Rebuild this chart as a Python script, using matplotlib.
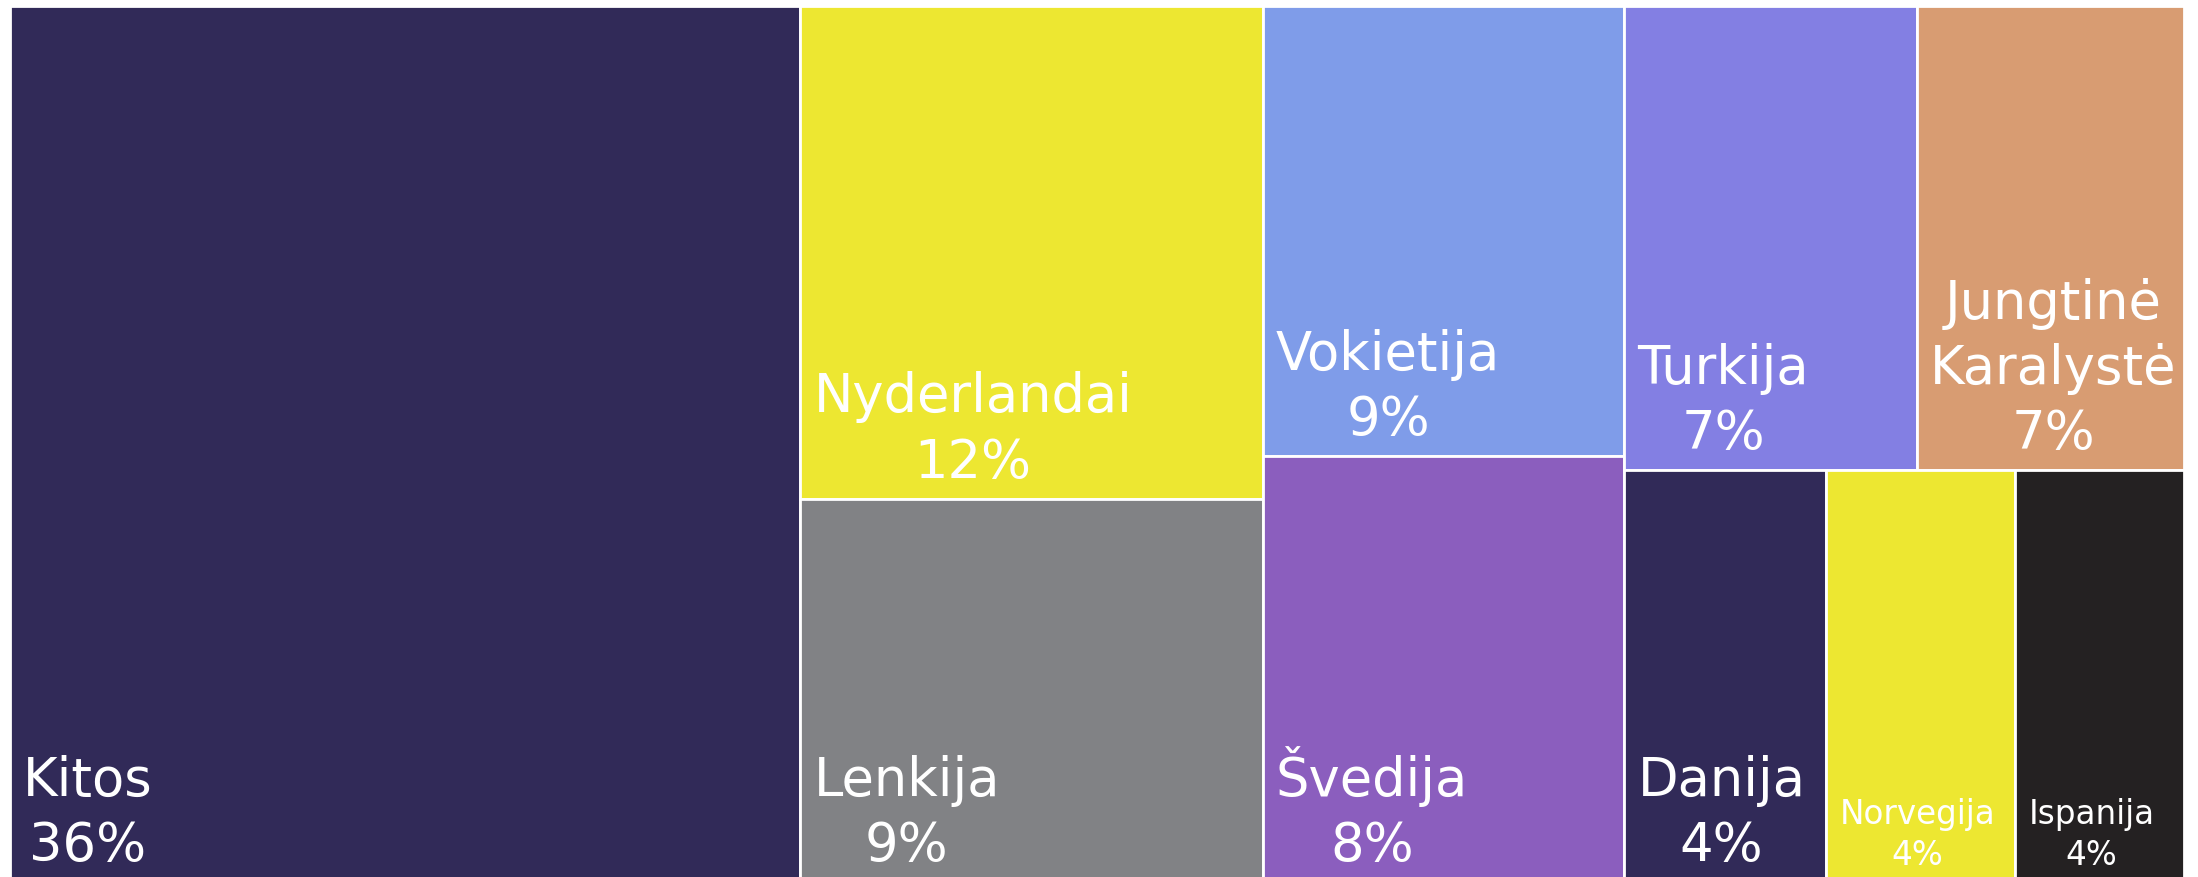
import matplotlib
matplotlib.use("Agg")
import matplotlib.pyplot as plt
from matplotlib.patches import Rectangle

# share of each country (percent)
names = ["Kitos", "Nyderlandai", "Lenkija", "Vokietija", "Švedija",
         "Turkija", "Jungtinė\nKaralystė", "Danija", "Norvegija", "Ispanija"]
values = [36.36, 11.96, 9.31, 8.55, 8.08, 7.12, 6.51, 4.37, 4.09, 3.65]
colors = ["#312a58", "#ede731", "#818285", "#7f9ce9", "#8b5ebe",
          "#837fe3", "#d89c72", "#312a58", "#ede731", "#242122"]
# layout grouping: which column, and which row inside that column
column = [0, 1, 1, 2, 2, 3, 3, 3, 3, 3]
row = [0, 0, 1, 0, 1, 0, 0, 1, 1, 1]
font_sizes = [38, 38, 38, 38, 38, 38, 38, 38, 23.5, 23.5]

plt.rcParams['font.family'] = ['DejaVu Sans']

W, H, DPI = 2198, 878, 100
fig = plt.figure(figsize=(W / DPI, H / DPI), dpi=DPI)
# treemap runs a little past the bottom edge of the picture
ax = fig.add_axes([10 / W, (878 - 7 - 876) / H, 2174 / W, 876 / H])
ax.set_xlim(0, 1)
ax.set_ylim(0, 1)
ax.axis("off")

total = sum(values)
x = 0.0
for c in sorted(set(column)):
    idx = [i for i in range(len(values)) if column[i] == c]
    csum = sum(values[i] for i in idx)
    cw = csum / total
    y_top = 1.0
    for r in sorted(set(row[i] for i in idx)):
        ridx = [i for i in idx if row[i] == r]
        rsum = sum(values[i] for i in ridx)
        rh = rsum / csum
        xx = x
        for i in ridx:
            w = cw * values[i] / rsum
            ax.add_patch(Rectangle((xx, y_top - rh), w, rh, facecolor=colors[i],
                                   edgecolor="white", linewidth=2))
            ax.annotate(f"{names[i]}\n{round(values[i])}%", xy=(xx, y_top - rh),
                        xytext=(13, 11), textcoords="offset pixels",
                        ha="left", va="bottom", multialignment="center",
                        color="white", fontsize=font_sizes[i], linespacing=1.32)
            xx += w
        y_top -= rh
    x += cw

fig.savefig("out.png", dpi=DPI)
